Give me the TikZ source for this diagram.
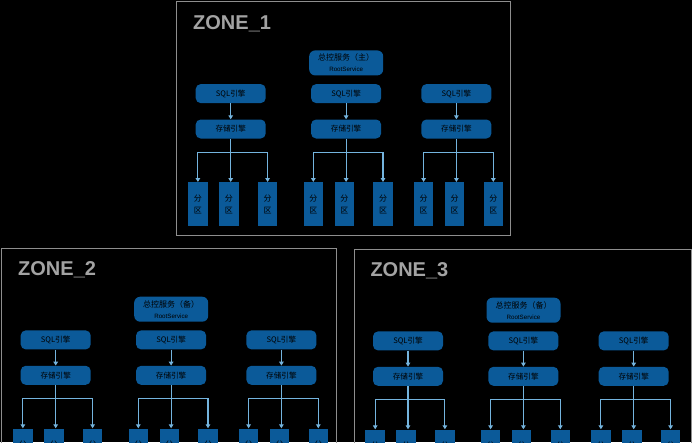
\documentclass[tikz,border=0pt]{standalone}
\usepackage{fontspec}
\setmainfont{Liberation Sans}
\newfontfamily\cjk{Noto Sans CJK SC}
\usetikzlibrary{arrows.meta,positioning}
\definecolor{zoneGrey}{HTML}{8E8E8E}
\definecolor{titleGrey}{HTML}{A3A3A3}
\definecolor{boxBlue}{HTML}{0B5A99}
\definecolor{flowBlue}{HTML}{74B4DE}
\tikzset{
  zoneframe/.style={draw=zoneGrey, line width=0.9pt},
  zonetitle/.style={text=titleGrey, font=\bfseries\fontsize{20}{24}\selectfont, inner sep=0pt, anchor=base west},
  rootbox/.style={fill=boxBlue, rounded corners=6pt, minimum width=74pt, minimum height=25pt, inner sep=0pt, align=center},
  enginebox/.style={fill=boxBlue, rounded corners=5pt, minimum width=70pt, minimum height=19pt, inner sep=0pt, font=\cjk\fontsize{7.6}{9}\selectfont},
  partbox/.style={fill=boxBlue, minimum width=19.5pt, minimum height=44pt, inner sep=0pt, align=center, font=\cjk\fontsize{8}{11.7}\selectfont},
  flow/.style={draw=flowBlue, line width=1.1pt, -{Triangle[length=4pt,width=4.6pt]}},
  bus/.style={draw=flowBlue, line width=1.1pt}
}

\begin{document}
\begin{tikzpicture}[x=1pt, y=-1pt]
    \coordinate (O) at (0,0);
    \fill[black] (O) rectangle (692,442);
    \useasboundingbox (O) rectangle (692,442);
    \clip (O) rectangle (692,442);
    \pgfmathsetmacro{\rootY}{61.2}  % units of points, from zone top
    \pgfmathsetmacro{\sqlY}{91.9}
    \pgfmathsetmacro{\stoY}{127.3}
    \pgfmathsetmacro{\busY}{150.7}
    \pgfmathsetmacro{\partY}{202.5}
    % Syntax: zone / left / top / width / height / role
    \foreach \z/\zx/\zy/\zw/\zh/\role in {1/176.7/1.7/334/233.3/主, 2/1.7/248/335/240/备, 3/354/249/337/240/备} {
        \draw[zoneframe] (\zx,\zy) rectangle ++(\zw,\zh);
        \node[zonetitle] (zone\z) at (\zx+16.3,\zy+27.8) {ZONE\_\z};
        \node[rootbox] (z\z-root) at (\zx+169.5,\zy+\rootY)
            {{\cjk\fontsize{8}{9.5}\selectfont 总控服务（\role）}\\[-1pt]{\fontsize{6.2}{7}\selectfont RootService}};
        \foreach \c/\cx in {1/54, 2/169.4, 3/279.7} {
            \node[enginebox] (z\z-sql\c) at (\zx+\cx,\zy+\sqlY) {SQL引擎};
            \node[enginebox] (z\z-sto\c) at (\zx+\cx,\zy+\stoY) {存储引擎};
            \draw[flow] (z\z-sql\c) -- (z\z-sto\c);
            \foreach \p/\px in {1/-32.8, 2/-1.8, 3/36.9} {
                \node[partbox] (z\z-part\c\p) at (\zx+\cx+\px,\zy+\partY) {分\\区};
            }
            \coordinate (z\z-bus\c) at (\zx+\cx,\zy+\busY);
            \draw[flow] (z\z-sto\c) -- (z\z-sto\c |- z\z-part\c2.north);
            \draw[flow] (z\z-bus\c) -| (z\z-part\c1);
            \draw[flow] (z\z-bus\c) -| (z\z-part\c3);
        }
    }
\end{tikzpicture}
\end{document}
